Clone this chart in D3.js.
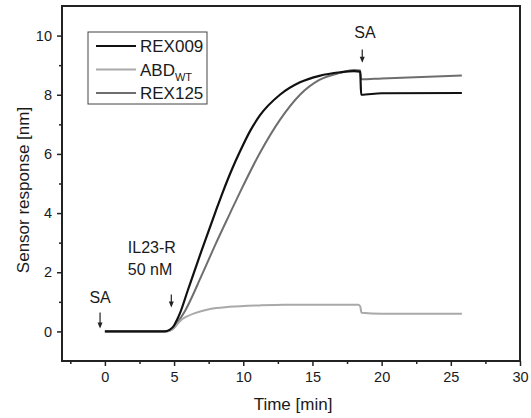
<!DOCTYPE html>
<html>
<head>
<meta charset="utf-8">
<script src="https://cdn.jsdelivr.net/npm/d3@7"></script>
<style>
  body { margin: 0; background: #fff; }
  text { font-family: "Liberation Sans", Arial, sans-serif; fill: #1a1a1a; }
</style>
</head>
<body>
<svg id="chart" width="531" height="418"></svg>
<script>
// sensor traces (time in min, response in nm)
var rex009T = [0, 4.3, 4.7, 5.0, 5.2, 5.42, 6, 7, 8, 8.53, 9.2, 9.76, 10.5, 11.2, 12.65, 14.1, 15.5, 17.0, 18.0, 18.45, 18.52, 20, 25.8];
var rex009V = [0, 0, 0.06, 0.2, 0.38, 0.61, 1.4, 2.75, 4.05, 4.72, 5.5, 6.08, 6.78, 7.3, 8.0, 8.42, 8.64, 8.76, 8.8, 8.78, 8.0, 8.05, 8.06];

var abdT = [0, 4.5, 5.0, 5.3, 5.6, 5.9, 6.5, 7.6, 9, 11.2, 13, 14.8, 18.3, 18.45, 18.55, 20, 25.8];
var abdV = [0, 0, 0.12, 0.28, 0.42, 0.5, 0.62, 0.76, 0.83, 0.88, 0.9, 0.9, 0.9, 0.85, 0.63, 0.6, 0.6];

var rex125T = [0, 4.4, 4.8, 5.1, 5.4, 5.8, 7, 8, 9, 9.76, 11.2, 12.65, 14.1, 15.5, 17.0, 18.0, 18.45, 18.52, 20, 25.8];
var rex125V = [0, 0, 0.05, 0.18, 0.4, 0.7, 1.9, 2.95, 3.95, 4.7, 6.03, 7.15, 8.0, 8.5, 8.74, 8.84, 8.82, 8.52, 8.55, 8.65];

var xTicks = [0, 5, 10, 15, 20, 25, 30];
var yTicks = [0, 2, 4, 6, 8, 10];

// arrows: time, arrow top, arrow tip (nm)
var arrowT = [-0.35, 4.8, 18.6];
var arrowTop = [0.64, 1.25, 9.53];
var arrowTip = [0.1, 0.81, 9.08];

var svg = d3.select("#chart");
var pLeft = 62, pRight = 520, pTop = 6, pBottom = 361;

var x = d3.scaleLinear().domain([-3.1, 30]).range([pLeft, pRight]);
var y = d3.scaleLinear().domain([-1, 11]).range([pBottom, pTop]);

function styleTicks(g) {
    g.select(".domain").remove();
    g.selectAll("line").attr("stroke", "#222").attr("stroke-width", 1.5);
    g.selectAll("text").attr("font-size", 14.5).attr("font-family", "Liberation Sans, Arial, sans-serif").attr("fill", "#1a1a1a");
}

// minor ticks
svg.append("g")
    .attr("transform", "translate(0," + pBottom + ")")
    .call(d3.axisBottom(x).tickValues(d3.range(-2.5, 30, 5)).tickSize(3).tickFormat(""))
    .call(styleTicks);
svg.append("g")
    .attr("transform", "translate(" + pLeft + ",0)")
    .call(d3.axisLeft(y).tickValues(d3.range(1, 11, 2)).tickSize(3).tickFormat(""))
    .call(styleTicks);

// major ticks
svg.append("g")
    .attr("transform", "translate(0," + pBottom + ")")
    .call(d3.axisBottom(x).tickValues(xTicks).tickSize(5).tickPadding(6))
    .call(styleTicks);
svg.append("g")
    .attr("transform", "translate(" + pLeft + ",0)")
    .call(d3.axisLeft(y).tickValues(yTicks).tickSize(5).tickPadding(5))
    .call(styleTicks);

// frame
svg.append("rect")
    .attr("x", pLeft).attr("y", pTop)
    .attr("width", pRight - pLeft).attr("height", pBottom - pTop)
    .attr("fill", "none").attr("stroke", "#222").attr("stroke-width", 2);

// traces
var line = d3.line()
    .x(function (d) { return x(d[0]); })
    .y(function (d) { return y(d[1]); })
    .curve(d3.curveMonotoneX);

var series = [
    { name: "REX125", t: rex125T, v: rex125V, color: "#6e6e6e", w: 2 },
    { name: "ABD", t: abdT, v: abdV, color: "#a9a9a9", w: 2 },
    { name: "REX009", t: rex009T, v: rex009V, color: "#111", w: 2.2 }
];
series.forEach(function (s) {
    svg.append("path")
        .datum(d3.zip(s.t, s.v))
        .attr("d", line)
        .attr("fill", "none")
        .attr("stroke", s.color)
        .attr("stroke-width", s.w)
        .attr("stroke-linejoin", "round");
});

// arrows
for (var i = 0; i < arrowT.length; i++) {
    var ax = x(arrowT[i]), ay1 = y(arrowTop[i]), ay2 = y(arrowTip[i]);
    svg.append("line")
        .attr("x1", ax).attr("x2", ax).attr("y1", ay1).attr("y2", ay2 - 4)
        .attr("stroke", "#222").attr("stroke-width", 1.2);
    svg.append("path")
        .attr("d", "M" + (ax - 2.5) + "," + (ay2 - 6) + "L" + (ax + 2.5) + "," + (ay2 - 6) + "L" + ax + "," + ay2 + "Z")
        .attr("fill", "#222");
}

// annotation labels
svg.append("text").attr("x", x(-0.35)).attr("y", y(0.95)).attr("text-anchor", "middle")
    .attr("font-size", 16).text("SA");
svg.append("text").attr("x", x(18.8)).attr("y", y(9.93)).attr("text-anchor", "middle")
    .attr("font-size", 16).text("SA");
svg.append("text").attr("x", x(1.66)).attr("y", y(2.64)).attr("font-size", 16).text("IL23-R");
svg.append("text").attr("x", x(1.66)).attr("y", y(1.9)).attr("font-size", 16).text("50 nM");

// legend
var lg = svg.append("g");
lg.append("rect").attr("x", 88).attr("y", 32).attr("width", 119).attr("height", 72)
    .attr("fill", "#fff").attr("stroke", "#444").attr("stroke-width", 1);
var legendItems = [
    { label: "REX009", color: "#111", w: 2.2 },
    { label: "ABD", sub: "WT", color: "#a9a9a9", w: 2 },
    { label: "REX125", color: "#6e6e6e", w: 2 }
];
legendItems.forEach(function (d, k) {
    var ly = 46 + k * 23.5;
    lg.append("line").attr("x1", 96).attr("x2", 136).attr("y1", ly).attr("y2", ly)
        .attr("stroke", d.color).attr("stroke-width", d.w);
    var t = lg.append("text").attr("x", 140).attr("y", ly + 6).attr("font-size", 17);
    t.append("tspan").text(d.label);
    if (d.sub) t.append("tspan").attr("dy", 5).attr("font-size", 11).text(d.sub);
});

// axis titles
svg.append("text").attr("x", (pLeft + pRight) / 2 + 2).attr("y", 410)
    .attr("text-anchor", "middle").attr("font-size", 17).text("Time [min]");
svg.append("text")
    .attr("transform", "translate(29," + 190 + ") rotate(-90)")
    .attr("text-anchor", "middle").attr("font-size", 17).text("Sensor response [nm]");
</script>
</body>
</html>
